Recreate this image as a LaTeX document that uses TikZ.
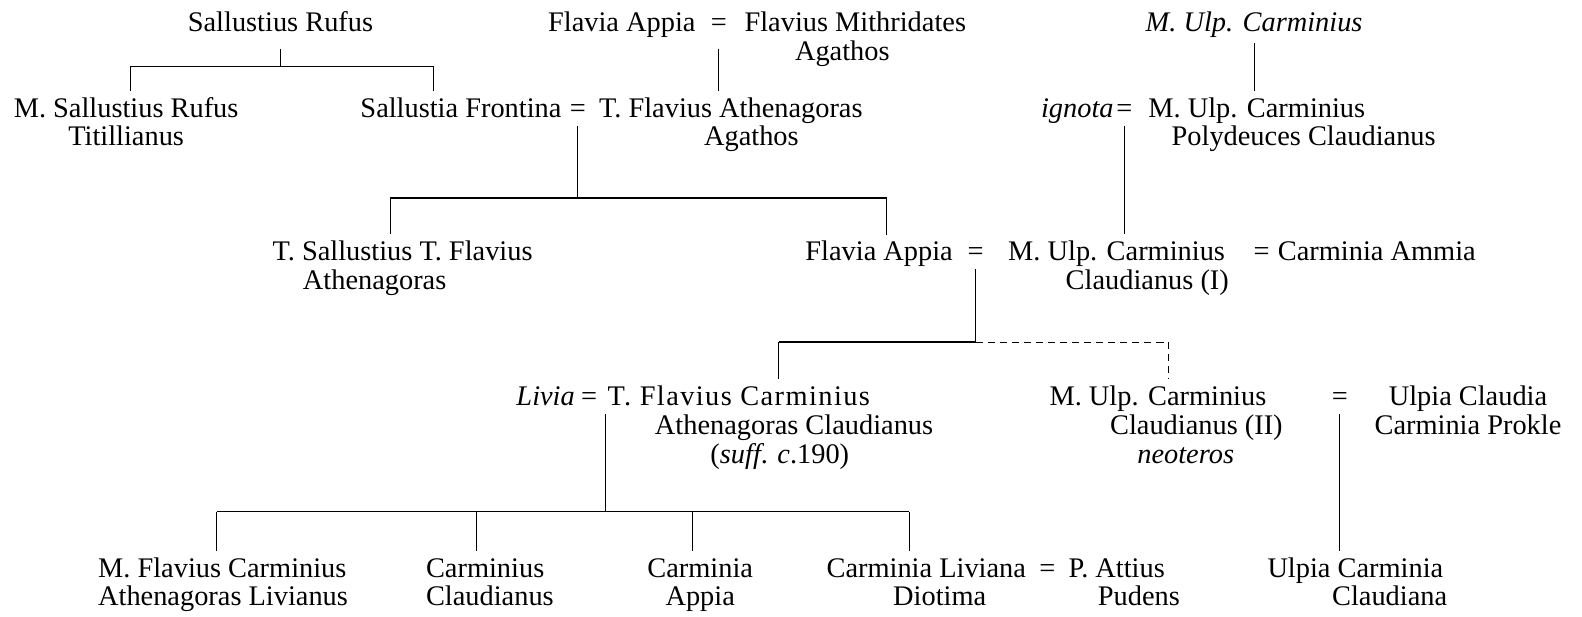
\documentclass[tikz,border=0pt]{standalone}
\usepackage{fontspec}
\setmainfont{Liberation Serif}
\usetikzlibrary{positioning}

\newcommand{\names}[2][l]{\begin{tabular}[t]{@{}#1@{}}#2\end{tabular}}

\tikzset{
  person/.style={anchor=base,inner xsep=0pt,inner ysep=4pt,font=\fontsize{20}{20.3}\selectfont},
  eq/.style={anchor=base,inner xsep=0pt,inner ysep=6pt,font=\fontsize{20}{20.3}\selectfont},
  tie/.style={line width=0.7pt},
  bar/.style={line width=1.2pt},
  uncertain/.style={line width=0.7pt,dash pattern=on 5pt off 3.5pt}
}

\begin{document}
\begin{tikzpicture}[x=0.025cm,y=-0.025cm]
  \useasboundingbox (0,0) rectangle (1568,611);
  \node[person] (sallR) at (278,31) {Sallustius Rufus};
  \node[person,anchor=base west] (flavA) at (543,31) {Flavia Appia};
  \node[eq,base right=10.5pt of flavA] (eqA) {=};
  \node[person,base right=12pt of eqA] (mithr) {\names{Flavius Mithridates\\\hspace*{1.25cm}Agathos}};
  \node[person] (carmTop) at (1243,31) {\textit{M. Ulp. Carminius}};

  \node[person] (sallM) at (125,116) {\names[c]{M. Sallustius Rufus\\Titillianus}};
  \node[person,anchor=base west] (sallF) at (357,116) {Sallustia Frontina};
  \node[eq,base right=5.5pt of sallF] (eqB) {=};
  \node[person,base right=9pt of eqB] (athen) {\names{T. Flavius Athenagoras\\\hspace*{2.6cm}Agathos}};
  \node[person,anchor=base east] (ignota) at (1104,116) {\textit{ignota}};
  \node[eq,base right=1.5pt of ignota] (eqI) {=};
  \node[person,base right=11pt of eqI] (carmPoly) {\names{M. Ulp. Carminius\\\hspace*{0.575cm}Polydeuces Claudianus}};

  \node[person,anchor=base west] (tSall) at (270,258) {\names{T. Sallustius T. Flavius\\\hspace*{0.75cm}Athenagoras}};
  \node[person,anchor=base west] (flavB) at (798,258) {Flavia Appia};
  \node[eq,base right=10pt of flavB] (eqC) {=};
  \node[person,base right=17pt of eqC] (carmI) {\names{M. Ulp. Carminius\\\hspace*{1.425cm}Claudianus (I)}};
  \node[eq,base right=17pt of carmI] (eqD) {=};
  \node[person,base right=5.5pt of eqD] (ammia) {Carminia Ammia};

  \node[person,anchor=base east] (livia) at (570,402) {\textit{Livia}};
  \node[eq,base right=4pt of livia] (eqE) {=};
  \node[person,base right=7pt of eqE] (tFlavC) {\names{{\addfontfeature{LetterSpace=5}T. Flavius Carminius}\\\hspace*{1.175cm}Athenagoras Claudianus\\\hspace*{2.55cm}(\textit{suff}. \textit{c}.190)}};
  \node[person,anchor=base west] (carmII) at (1040,402) {\names{M. Ulp. Carminius\\\hspace*{1.5cm}Claudianus (II)\\\hspace*{2.175cm}\textit{neoteros}}};
  \node[eq] (eqF) at (1328,402) {=};
  \node[person] (ulpCl) at (1455,402) {\names[c]{Ulpia Claudia\\Carminia Prokle}};

  \node[person,anchor=base west] (mFlav) at (97,572) {\names{M. Flavius Carminius\\Athenagoras Livianus}};
  \node[person,anchor=base west] (cClaud) at (422,572) {\names{Carminius\\Claudianus}};
  \node[person] (cAppia) at (694,572) {\names[c]{Carminia\\Appia}};
  \node[person,anchor=base west] (cLiv) at (819,572) {\names{Carminia Liviana\\\hspace*{1.65cm}Diotima}};
  \node[eq,base right=9pt of cLiv] (eqG) {=};
  \node[person,base right=9pt of eqG] (attius) {\names{P. Attius\\\hspace*{0.725cm}Pudens}};
  \node[person,anchor=base west] (ulpCarm) at (1256,572) {\names{Ulpia Carminia\\\hspace*{1.6cm}Claudiana}};

  \coordinate (s1) at (129,66);
  \coordinate (s2) at (430,66);
  \draw[tie,shorten <=8pt] (sallR.south) -- (sallR.south |- s1);
  \draw[bar] (s1) -- (s2);
  \draw[tie] (s1) -- (s1 |- sallM.north);
  \draw[tie] (s2) -- (s2 |- sallF.north);
  \draw[tie,shorten <=6pt] (eqA.south) -- (eqA.south |- athen.north);
  \draw[tie] (carmTop.south) -- (carmTop.south |- carmPoly.north);

  \coordinate (a1) at (387,196);
  \coordinate (a2) at (879,196);
  \draw[tie] (eqB.south) -- (eqB.south |- a1);
  \draw[bar] (a1) -- (a2);
  \draw[tie] (a1) -- (a1 |- tSall.north);
  \draw[tie] (a2) -- (a2 |- flavB.north);
  \draw[tie] (eqI.south) -- (eqI.south |- carmI.north);

  \coordinate (c1) at (772,339);
  \coordinate (c2) at (1158,339);
  \draw[tie] (eqC.south) -- (eqC.south |- c1);
  \draw[bar] (c1) -- (eqC.south |- c1);
  \draw[uncertain] (eqC.south |- c1) -- (c2) -- (c2 |- carmII.north);
  \draw[tie] (c1) -- (c1 |- tFlavC.north);

  \coordinate (lv) at ([xshift=0.4cm]eqE.south);
  \coordinate (k1) at (215,507);
  \coordinate (k4) at (901,507);
  \draw[tie] (lv) -- (lv |- k1);
  \draw[bar] (k1) -- (k4);
  \foreach \kid/\x in {mFlav/215,cClaud/472,cAppia/686,cLiv/901}
    \draw[tie] (\x,507) -- (\x,507 |- \kid.north);
  \draw[tie] (eqF.south) -- (eqF.south |- ulpCarm.north);
\end{tikzpicture}
\end{document}
